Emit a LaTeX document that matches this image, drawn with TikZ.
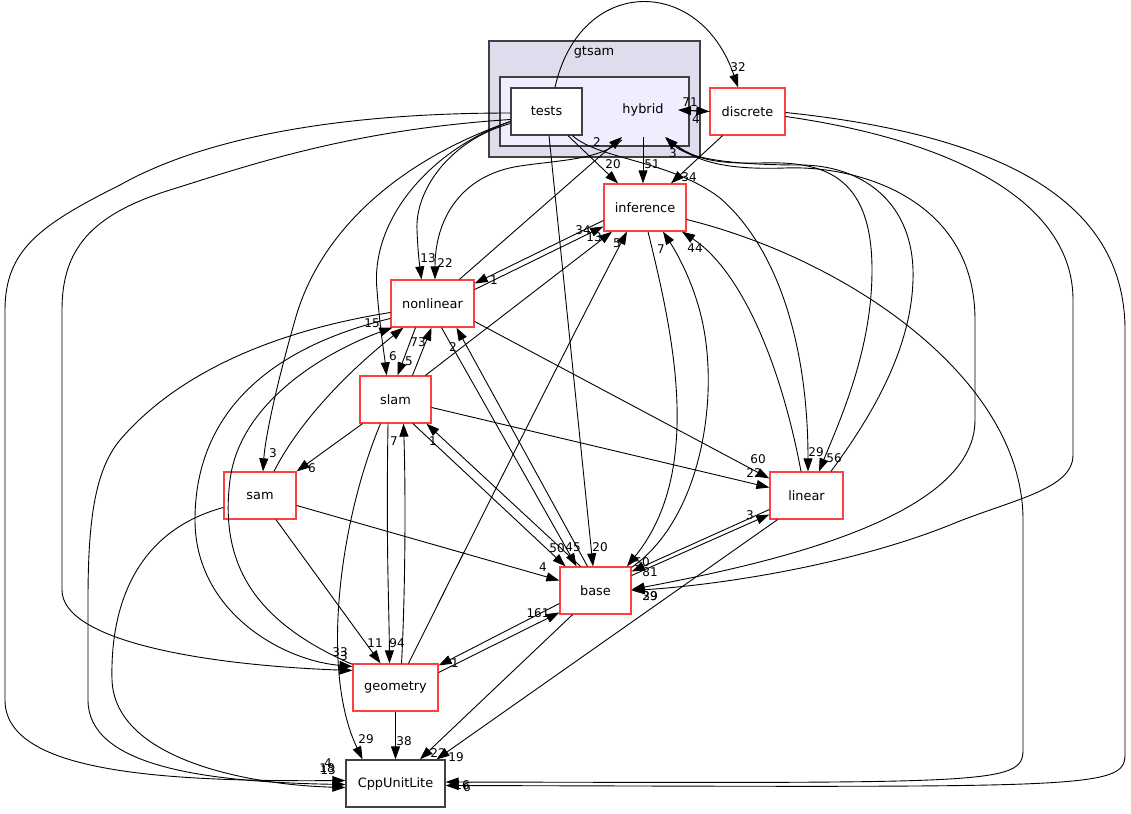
\documentclass[tikz,border=0pt]{standalone}
\usepackage{fontspec}
\setmainfont{DejaVu Sans}
\usetikzlibrary{arrows.meta,calc}
\definecolor{redb}{HTML}{FF4040}
\definecolor{darkb}{HTML}{404040}
\definecolor{gts}{HTML}{DDDDEE}
\definecolor{hyb}{HTML}{EEEEFF}
\begin{document}
\begin{tikzpicture}[x=1pt,y=-1pt,
  dirbox/.style={draw=redb,line width=1.3pt,fill=white,minimum width=#1,minimum height=47pt,inner sep=0pt,font=\fontsize{12.9}{15}\selectfont},
  plainbox/.style={draw=darkb,line width=1.3pt,fill=white,minimum width=#1,minimum height=47pt,inner sep=0pt,font=\fontsize{12.9}{15}\selectfont},
  clus/.style={draw=darkb,line width=1.3pt},
  dep/.style={draw=black,line width=0.9pt,-{Triangle[length=13pt,width=9pt]}},
  lbl/.style={font=\fontsize{12}{14}\selectfont,inner sep=0pt},
  ttl/.style={font=\fontsize{12.9}{15}\selectfont,inner sep=0pt}]
\useasboundingbox (0,0) rectangle (1131,813);
\fill[white] (0,0) rectangle (1131,813);
% clusters
\path[clus,fill=gts] (489,41) rectangle (700,157);
\node[ttl] (gtsamlbl) at (594,52) {gtsam};
\path[clus,fill=hyb] (500,77) rectangle (689,146);
\node[ttl] (hybrid) at (643,110) {hybrid};
% nodes
\node[plainbox=71pt] (tests) at (546.5,111.5) {tests};
\node[dirbox=75pt] (discrete) at (747.5,111.5) {discrete};
\node[dirbox=82pt] (inference) at (645,207.5) {inference};
\node[dirbox=83pt] (nonlinear) at (432.5,303.5) {nonlinear};
\node[dirbox=71pt] (slam) at (395.5,399.5) {slam};
\node[dirbox=72pt] (sam) at (260,495.5) {sam};
\node[dirbox=73pt] (linear) at (806.5,495.5) {linear};
\node[dirbox=71pt] (base) at (595.5,590.5) {base};
\node[dirbox=85pt] (geometry) at (395.5,687.5) {geometry};
\node[plainbox=99pt] (cpp) at (395.5,783.5) {CppUnitLite};
% edges from tests
\draw[dep] ($(tests.north)+(8.5,0)$) .. controls (580,-25) and (700,-25) .. ($(discrete.north)+(-9.5,0)$);
\draw[dep] ($(tests.south)+(21.5,0)$) -- ($(inference.north)+(-27,0)$);
\draw[dep] ($(tests.south)+(26,0)$) .. controls (600,160) and (670,160) .. (720,198) .. controls (780,250) and (808,350) .. ($(linear.north)+(1.5,0)$);
\draw[dep] ($(tests.south)+(2.5,0)$) -- ($(base.north)+(-2.5,0)$);
\draw[dep] ($(tests.west)+(0,12)$) .. controls (450,140) and (415,190) .. (417,230) .. controls (418,255) and (420,268) .. ($(nonlinear.north)+(-11,0)$);
\draw[dep] ($(tests.west)+(0,10)$) .. controls (430,150) and (370,220) .. (377,290) .. controls (380,330) and (385,360) .. ($(slam.north)+(-9,0)$);
\draw[dep] ($(tests.west)+(0,10)$) .. controls (400,160) and (320,230) .. (295,320) .. controls (275,390) and (265,440) .. ($(sam.north)+(3,0)$);
\draw[dep] ($(tests.west)+(0,8)$) .. controls (350,130) and (250,165) .. (170,190) .. controls (90,215) and (62,250) .. (62,310) -- (62,590) .. controls (62,640) and (200,665) .. ($(geometry.west)+(0,-17)$);
\draw[dep] ($(tests.west)+(0,1.5)$) .. controls (330,113) and (200,140) .. (120,185) .. controls (40,225) and (5,250) .. (5,310) -- (5,700) .. controls (5,770) and (150,782) .. ($(cpp.west)+(0,-3)$);
% hybrid
\draw[dep] ($(hybrid)+(37,0)$) -- (discrete.west);
\draw[dep] (discrete.west) -- ($(hybrid)+(35,0)$);
\draw[dep] ($(hybrid)+(0,27)$) -- ($(inference.north)+(-2,0)$);
\draw[dep] ($(hybrid)+(-21,30)$) .. controls (600,160) and (560,160) .. (520,166) .. controls (460,175) and (435,220) .. ($(nonlinear.north)+(2.5,0)$);
\draw[dep] ($(hybrid)+(24,28)$) .. controls (690,158) and (710,164) .. (760,163) .. controls (820,161) and (872,172) .. (872,270) .. controls (872,350) and (840,420) .. ($(linear.north)+(12.5,0)$);
\draw[dep] ($(hybrid)+(24,28)$) .. controls (692,162) and (725,170) .. (785,168) .. controls (860,165) and (975,200) .. (975,320) -- (975,420) .. controls (975,520) and (760,565) .. ($(base.east)+(0,-1)$);
\draw[dep] ($(nonlinear.north)+(27,0)$) -- ($(hybrid)+(-21,27)$);
\draw[dep] ($(linear.north)+(24.5,0)$) .. controls (865,425) and (915,350) .. (913,270) .. controls (911,200) and (860,165) .. (800,165) .. controls (740,165) and (690,160) .. ($(hybrid)+(22,27)$);
% discrete
\draw[dep] ($(discrete.south)+(-25,0)$) -- ($(inference.north)+(26,0)$);
\draw[dep] ($(discrete.east)+(0,5)$) .. controls (950,140) and (1073,200) .. (1073,300) -- (1073,455) .. controls (1073,490) and (1010,500) .. (950,525) .. controls (850,565) and (720,585) .. (base.east);
\draw[dep] ($(discrete.east)+(0,1)$) .. controls (1000,135) and (1125,200) .. (1125,330) -- (1125,755) .. controls (1125,790) and (1080,787) .. ($(cpp.east)+(0,2)$);
% inference
\draw[dep] ($(inference.east)+(0,12)$) .. controls (850,260) and (1023,380) .. (1023,520) -- (1023,750) .. controls (1023,785) and (990,783) .. ($(cpp.east)+(0,-1.5)$);
\draw[dep] ($(inference.south)+(3,0)$) .. controls (672,330) and (705,470) .. ($(base.north)+(31.5,0)$);
\draw[dep] ($(inference.west)+(0,13)$) -- ($(nonlinear.east)+(0,-20)$);
% linear
\draw[dep] ($(linear.north)+(-5.5,0)$) .. controls (780,360) and (740,270) .. ($(inference.south)+(37,0)$);
\draw[dep] ($(linear.west)+(0,14)$) -- ($(base.east)+(0,-19)$);
\draw[dep] ($(linear.south)+(-29,0)$) -- ($(cpp.north)+(41,0)$);
% base
\draw[dep] ($(base.north east)+(0,1)$) .. controls (700,520) and (720,400) .. (702,320) .. controls (693,280) and (675,250) .. ($(inference.south)+(18,0)$);
\draw[dep] ($(base.north)+(-8,0)$) -- ($(nonlinear.south)+(24,0)$);
\draw[dep] ($(base.north)+(-15,0)$) -- ($(slam.south)+(31,0)$);
\draw[dep] ($(base.east)+(0,-15)$) -- ($(linear.west)+(0,19)$);
\draw[dep] ($(base.west)+(0,13)$) -- ($(geometry.east)+(0,-22)$);
\draw[dep] ($(base.south)+(-23,0)$) -- ($(cpp.north)+(24.5,0)$);
% nonlinear
\draw[dep] ($(nonlinear.east)+(0,-14)$) -- ($(inference.west)+(0,19)$);
\draw[dep] ($(nonlinear.south)+(-17,0)$) -- ($(slam.north)+(2,0)$);
\draw[dep] ($(nonlinear.south)+(9,0)$) -- ($(base.north)+(-19,0)$);
\draw[dep] ($(nonlinear.east)+(0,18)$) -- ($(linear.west)+(0,-17)$);
\draw[dep] ($(nonlinear.west)+(0,9)$) .. controls (280,330) and (180,370) .. (120,440) .. controls (95,470) and (88,520) .. (88,600) -- (88,700) .. controls (88,765) and (200,782) .. ($(cpp.west)+(0,1)$);
\draw[dep] ($(nonlinear.west)+(0,15)$) .. controls (260,350) and (195,420) .. (195,520) .. controls (195,610) and (280,660) .. ($(geometry.west)+(0,-21)$);
% slam
\draw[dep] ($(slam.north)+(17,0)$) -- ($(nonlinear.south)+(-1,0)$);
\draw[dep] ($(slam.north)+(30,0)$) -- ($(inference.south)+(-33,0)$);
\draw[dep] ($(slam.south)+(17.5,0)$) -- ($(base.north)+(-30,0)$);
\draw[dep] ($(slam.east)+(0,8)$) -- ($(linear.west)+(0,-8)$);
\draw[dep] ($(slam.south)+(-33,0)$) -- (sam.north east);
\draw[dep] ($(slam.south)+(-7.5,0)$) .. controls (386,550) and (389,600) .. ($(geometry.north)+(-6,0)$);
\draw[dep] ($(slam.south)+(-15,0)$) .. controls (340,520) and (320,670) .. ($(cpp.north)+(-33,0)$);
% sam
\draw[dep] ($(sam.north)+(14,0)$) .. controls (300,420) and (350,370) .. ($(nonlinear.south west)+(13,0)$);
\draw[dep] ($(sam.east)+(0,10)$) -- ($(base.west)+(0,-10)$);
\draw[dep] ($(sam.south)+(16,0)$) -- ($(geometry.north)+(-15,0)$);
\draw[dep] ($(sam.west)+(0,12)$) .. controls (140,530) and (110,600) .. (112,680) .. controls (115,760) and (250,785) .. ($(cpp.west)+(0,4)$);
% geometry
\draw[dep] ($(geometry.north)+(13,0)$) .. controls (470,540) and (570,340) .. ($(inference.south)+(-18,0)$);
\draw[dep] ($(geometry.north)+(6,0)$) .. controls (405,600) and (406,500) .. ($(slam.south)+(8,0)$);
\draw[dep] ($(geometry.east)+(0,-15)$) -- ($(base.west)+(0,22)$);
\draw[dep] ($(geometry.north west)+(0,1)$) .. controls (250,620) and (220,560) .. (230,480) .. controls (240,400) and (330,350) .. ($(nonlinear.south west)+(2,0)$);
\draw[dep] (geometry.south) -- (cpp.north);
% labels
\node[lbl] (l1) at (738,67) {32};
\node[lbl] (l2) at (690,102) {71};
\node[lbl] (l3) at (696,119) {4};
\node[lbl] (l4) at (597,142) {2};
\node[lbl] (l5) at (673,153) {3};
\node[lbl] (l6) at (613,164) {20};
\node[lbl] (l7) at (652,164) {51};
\node[lbl] (l8) at (689,177) {34};
\node[lbl] (l9) at (583,230) {34};
\node[lbl] (l10) at (594,237) {13};
\node[lbl] (l11) at (617,243) {5};
\node[lbl] (l12) at (661,249) {7};
\node[lbl] (l13) at (695,248) {44};
\node[lbl] (l14) at (428,258) {13};
\node[lbl] (l15) at (445,263) {22};
\node[lbl] (l16) at (494,280) {1};
\node[lbl] (l17) at (372,323) {15};
\node[lbl] (l18) at (418,342) {73};
\node[lbl] (l19) at (453,347) {2};
\node[lbl] (l20) at (393,356) {6};
\node[lbl] (l21) at (409,361) {5};
\node[lbl] (l22) at (394,441) {7};
\node[lbl] (l23) at (433,441) {1};
\node[lbl] (l24) at (273,453) {3};
\node[lbl] (l25) at (312,468) {6};
\node[lbl] (l26) at (758,459) {60};
\node[lbl] (l27) at (754,473) {22};
\node[lbl] (l28) at (816,452) {29};
\node[lbl] (l29) at (834,458) {56};
\node[lbl] (l30) at (750,515) {3};
\node[lbl] (l31) at (557,548) {50};
\node[lbl] (l32) at (573,547) {45};
\node[lbl] (l33) at (600,547) {20};
\node[lbl] (l34) at (543,567) {4};
\node[lbl] (l35) at (642,562) {50};
\node[lbl] (l36) at (650,572) {81};
\node[lbl] (l37) at (650,596) {39};
\node[lbl] (l38) at (650,596) {29};
\node[lbl] (l39) at (538,613) {161};
\node[lbl] (l40) at (375,643) {11};
\node[lbl] (l41) at (397,643) {94};
\node[lbl] (l42) at (340,652) {33};
\node[lbl] (l43) at (344,656) {3};
\node[lbl] (l44) at (455,663) {1};
\node[lbl] (l45) at (366,739) {29};
\node[lbl] (l46) at (404,741) {38};
\node[lbl] (l47) at (438,753) {22};
\node[lbl] (l48) at (456,757) {19};
\node[lbl] (l49) at (328,763) {4};
\node[lbl] (l50) at (327,768) {18};
\node[lbl] (l51) at (328,770) {13};
\node[lbl] (l52) at (462,785) {16};
\node[lbl] (l53) at (467,787) {6};
\end{tikzpicture}
\end{document}
